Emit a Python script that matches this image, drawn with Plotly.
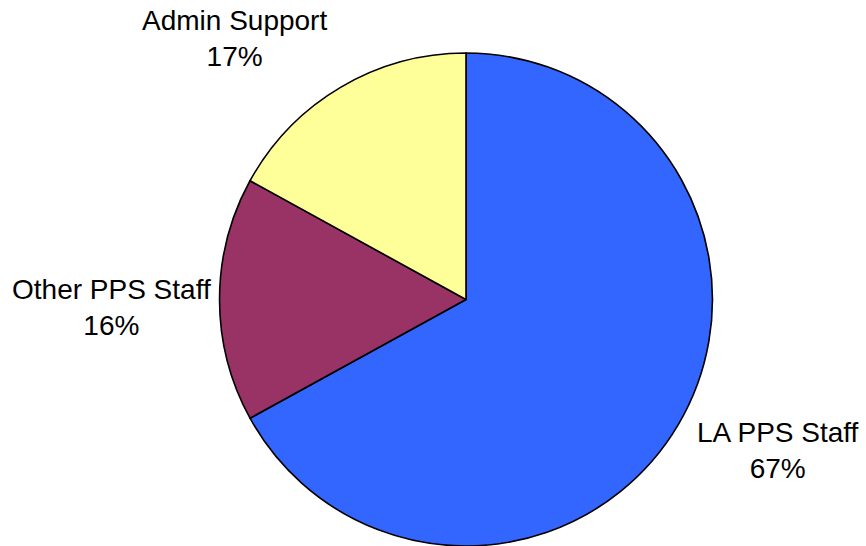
import math
import plotly.graph_objects as go

# Staffing share by group
labels = ["LA PPS Staff", "Other PPS Staff", "Admin Support"]
values = [67, 16, 17]
colors = ["#3366FF", "#993366", "#FFFF99"]

# Label nudges (pixels) from the rim point at each slice's mid-angle
label_shift_x = [100, -108, -106]
label_shift_y = [-26, -8, 49]

W, H = 866, 546
dom_x = [0.2535, 0.8227]
dom_y = [0.0, 0.903]

fig = go.Figure(
    go.Pie(
        labels=labels,
        values=values,
        sort=False,
        direction="clockwise",
        rotation=0,
        marker=dict(colors=colors, line=dict(color="black", width=1.6)),
        textinfo="none",
        domain=dict(x=dom_x, y=dom_y),
        showlegend=False,
        hoverinfo="label+percent",
    )
)

# Pie geometry in paper units
cx = (dom_x[0] + dom_x[1]) / 2
cy = (dom_y[0] + dom_y[1]) / 2
r_px = min((dom_x[1] - dom_x[0]) * W, (dom_y[1] - dom_y[0]) * H) / 2

total = sum(values)
cum = 0.0
for lab, val, sx, sy in zip(labels, values, label_shift_x, label_shift_y):
    mid = (cum + val / 2) / total * 2 * math.pi  # clockwise from 12 o'clock
    cum += val
    px = cx + r_px * math.sin(mid) / W
    py = cy + r_px * math.cos(mid) / H
    fig.add_annotation(
        x=px, y=py, xref="paper", yref="paper",
        text=f"{lab}<br>{round(val / total * 100)}%",
        showarrow=False,
        xanchor="center", yanchor="middle",
        xshift=sx, yshift=sy,
        align="center",
        font=dict(family="Liberation Sans, Arial, sans-serif", size=28, color="black"),
    )

fig.update_layout(
    width=W,
    height=H,
    margin=dict(l=0, r=0, t=0, b=0),
    paper_bgcolor="white",
    plot_bgcolor="white",
)

fig.write_html("out.html")
